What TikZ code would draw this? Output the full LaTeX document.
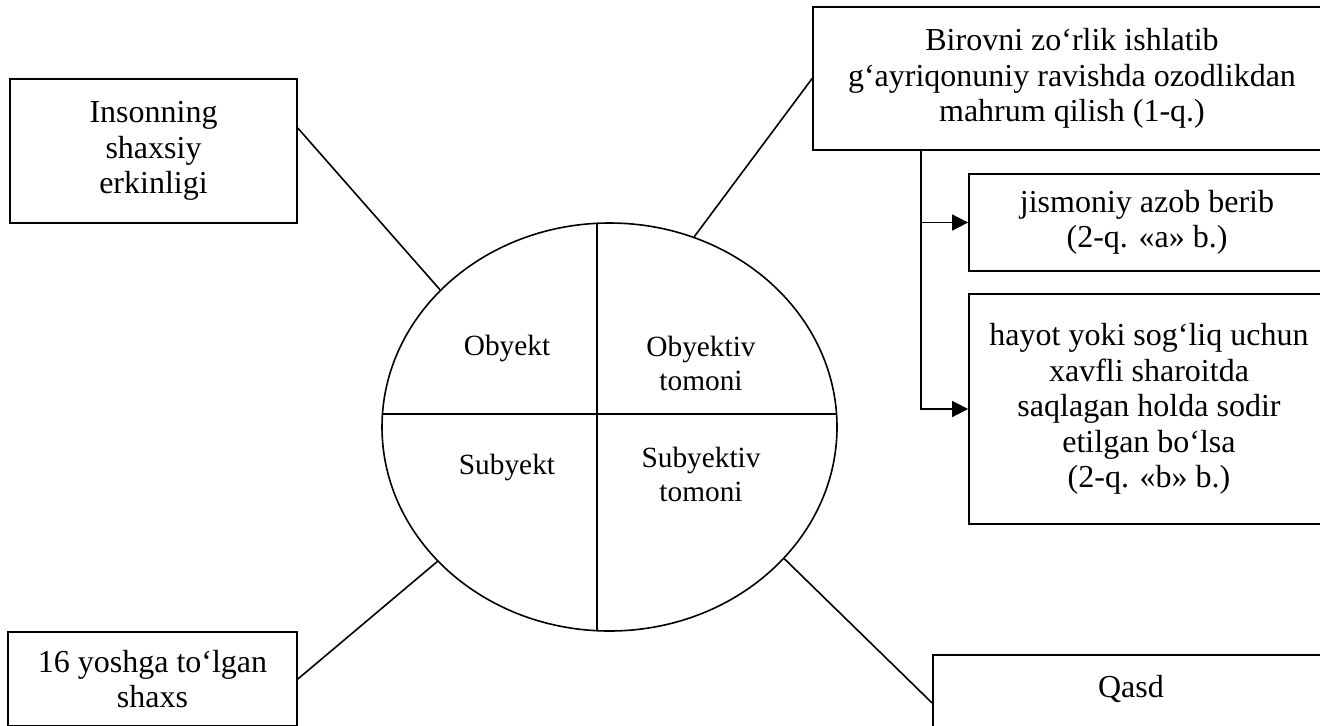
\documentclass[tikz,border=0pt]{standalone}
\usepackage{fontspec}
\setmainfont{Liberation Serif}
\usetikzlibrary{shapes.geometric,arrows.meta}
\tikzset{
  box/.style={draw,line width=1.3pt,align=center,inner sep=0pt,font=\fontsize{24}{26.6}\selectfont},
  part/.style={align=center,font=\fontsize{22}{25.5}\selectfont},
  link/.style={line width=1.2pt},
  branch/.style={line width=1.2pt,-{Triangle[length=12pt,width=12pt]}}
}
\begin{document}
\begin{tikzpicture}[x=0.75pt,y=-0.75pt]
            \useasboundingbox (0,0) rectangle (1320,725);
            \node[ellipse,draw,line width=1.2pt,minimum width=341.25pt,minimum height=306pt,inner sep=0pt] (core) at (609.5,427) {};
            \draw[link] (597,223.3) -- (597,630.7);
            \draw[link] (382.5,414) -- (836.5,414);
            \node[part] (obj) at (507,348) {Obyekt};
            \node[part] (objside) at (701,363) {Obyektiv\\tomoni};
            \node[part] (subj) at (507,467) {Subyekt};
            \node[part] (subjside) at (701,474.5) {Subyektiv\\tomoni};
            \node[box,minimum width=215.25pt,minimum height=108pt] (ins) at (153.5,151) {Insonning\\shaxsiy\\erkinligi};
            \node[box,minimum width=216.75pt,minimum height=70.5pt] (age) at (152.5,679) {16 yoshga to‘lgan\\shaxs};
            \node[box,minimum width=388.5pt,minimum height=107.25pt] (act) at (1072,78.5) {Birovni zo‘rlik ishlatib\\g‘ayriqonuniy ravishda ozodlikdan\\mahrum qilish (1-q.)};
            \node[box,minimum width=267pt,minimum height=72.75pt] (pain) at (1147,222.5) {jismoniy azob berib\\(2-q. «a» b.)};
            \node[box,minimum width=270pt,minimum height=172.5pt] (risk) at (1149,409) {hayot yoki sog‘liq uchun\\xavfli sharoitda\\saqlagan holda sodir\\etilgan bo‘lsa\\(2-q. «b» b.)};
            \node[box,minimum width=297pt,inner ysep=15pt,text depth=25.5pt] (intent) at (1131,703) {Qasd};
            \draw[link] (ins.9.9) -- (core.141.75);
            \draw[link] (act.west) -- (core.66);
            \draw[link] (age.east) -- (core.218.8);
            \draw[link] (intent.west) -- (core.323.6);
            \draw[branch] ([xshift=81.75pt]act.south west) |- (pain.west);
            \draw[branch] ([xshift=81.75pt]act.south west) |- (risk.west);
        \end{tikzpicture}
\end{document}
